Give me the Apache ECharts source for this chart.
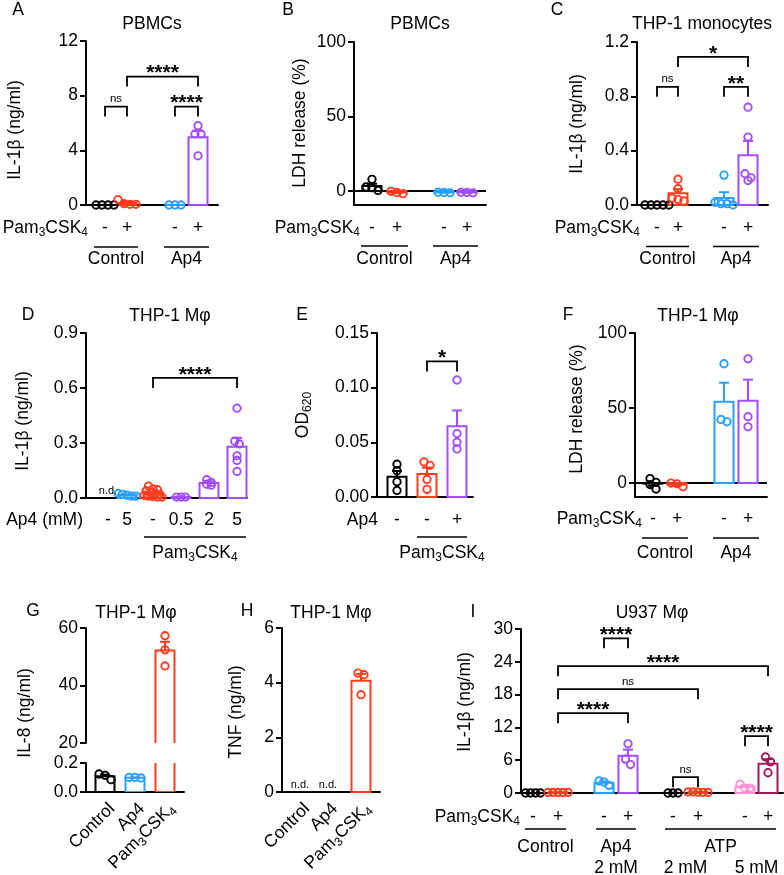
<!DOCTYPE html>
<html><head><meta charset="utf-8">
<script src="https://cdn.jsdelivr.net/npm/echarts@6/dist/echarts.min.js"></script>
<style>html,body{margin:0;padding:0;background:#fff}#c{width:784px;height:875px}</style>
</head><body><div id="c"></div>
<script>
// ================= DATA =================
// A: PBMCs, IL-1β (ng/ml)
const A_cats = ['-', '+', '-', '+'];
const A_yTicks = [0, 4, 8, 12];
const A_vals = [[0, 0, 0, 0], [0.4, 0.1, 0.05, 0.05], [0, 0, 0], [5.8, 5.2, 5.2, 3.6]];
const A_sig = [[0, 1, 7.2, 'ns'], [2, 3, 7.2, '****'], [1, 3, 9.4, '****']];
// B: PBMCs, LDH release (%)
const B_cats = ['-', '+', '-', '+'];
const B_yTicks = [0, 50, 100];
const B_vals = [[7.8, 2.7, 2.2, 0.4], [-1.8, -1.1, -0.2], [-1.2, -1.0, -0.8], [-1.2, -1.0, -0.9]];
// C: THP-1 monocytes, IL-1β (ng/ml)
const C_cats = ['-', '+', '-', '+'];
const C_yTicks = [0, 0.4, 0.8, 1.2];
const C_vals = [[0, 0, 0, 0, 0], [0.19, 0.12, 0.05, 0.04, 0.03], [0.22, 0.02, 0.01, 0.01, 0], [0.72, 0.5, 0.23, 0.2, 0.18]];
const C_sig = [[0, 1, 0.87, 'ns'], [2, 3, 0.87, '**'], [1, 3, 1.09, '*']];
// D: THP-1 Mφ, IL-1β (ng/ml)
const D_cats = ['-', '5', '-', '0.5', '2', '5'];
const D_yTicks = [0, 0.3, 0.6, 0.9];
const D_vals = [[], [0.025, 0.02, 0.015, 0.01, 0.01],
  [0.065, 0.05, 0.045, 0.04, 0.03, 0.025, 0.02, 0.015, 0.01, 0.008, 0.005, 0.005],
  [0.005, 0.005, 0.005], [0.1, 0.085, 0.075, 0.07], [0.49, 0.31, 0.295, 0.23, 0.205, 0.145]];
const D_sig = [[2, 5, 0.655, '****']];
// E: OD620
const E_cats = ['-', '-', '+'];
const E_yTicks = [0, 0.05, 0.1, 0.15];
const E_vals = [[0.03, 0.024, 0.014, 0.006], [0.032, 0.029, 0.016, 0.007], [0.107, 0.058, 0.05, 0.044]];
const E_sig = [[1, 2, 0.124, '*']];
// F: THP-1 Mφ, LDH release (%)
const F_cats = ['-', '+', '-', '+'];
const F_yTicks = [0, 50, 100];
const F_vals = [[3, 0.5, -1, -4], [-2.5, -0.5, 0], [79.5, 42.4, 40.8], [82.8, 44.2, 37.5]];
// G: THP-1 Mφ, IL-8 (ng/ml) (broken axis)
const G_cats = ['Control', 'Ap4', 'Pam3CSK4'];
const G_yTicksHigh = [20, 40, 60];
const G_yTicksLow = [0, 0.2];
const G_vals = [[0.085, 0.124, 0.115], [0.097, 0.1, 0.1], [57.3, 52.4, 46.8]];
// H: THP-1 Mφ, TNF (ng/ml)
const H_cats = ['Control', 'Ap4', 'Pam3CSK4'];
const H_yTicks = [0, 2, 4, 6];
const H_vals = [[], [], [4.35, 4.29, 3.56]];
// I: U937 Mφ, IL-1β (ng/ml)
const I_cats = ['-', '+', '-', '+', '-', '+', '-', '+'];
const I_yTicks = [0, 6, 12, 18, 24, 30];
const I_vals = [[0, 0, 0, 0], [0.1, 0.1, 0.1, 0.1, 0.1], [1.4, 2.2, 2.0], [9.0, 6.2, 5.2],
  [0, 0, 0], [0.2, 0.2, 0.15, 0.1, 0.1], [0.9, 1.6, 0.9], [6.6, 5.7, 3.7]];
const I_sig = [[2, 3, 28.3, '****'], [1, 7, 23.2, '****'], [1, 5, 19.0, 'ns'], [1, 3, 14.6, '****'], [6, 7, 10.4, '****'], [4, 5, 2.9, 'ns']];

// ================= STYLE / LAYOUT =================
const FONT = '"Liberation Sans", Arial, Helvetica, sans-serif';
const FS = 17.5;
const K = '#000000', R = '#ff3c1e', BL = '#27a0ff', P = '#a24dff', PK = '#ff8fd8', M = '#a3195b';
const PAM = '{n|Pam}{s|3}{n|CSK}{s|4}';
const RICH = {
  n: {fontSize: FS, fontFamily: FONT, lineHeight: 22, fill: '#000', color: '#000'},
  s: {fontSize: 12, fontFamily: FONT, lineHeight: 12, verticalAlign: 'bottom', fill: '#000', color: '#000'}
};

const panels = [
  {id: 'A', grid: {left: 86, top: 41, width: 132, height: 164}, ticks: A_yTicks, dec: 0, vals: A_vals, cats: A_cats, pos: [19, 41, 89, 112], colors: [K, R, BL, P], sig: A_sig},
  {id: 'B', grid: {left: 354, top: 42, width: 132, height: 163}, ticks: B_yTicks, ymin: -9.4, dec: 0, vals: B_vals, cats: B_cats, pos: [18, 43, 90, 113], colors: [K, R, BL, P], zero: true},
  {id: 'C', grid: {left: 637, top: 42, width: 131, height: 163}, ticks: C_yTicks, dec: 1, vals: C_vals, cats: C_cats, pos: [20, 41, 87, 111], colors: [K, R, BL, P], sig: C_sig},
  {id: 'D', grid: {left: 86, top: 333, width: 161, height: 165}, ticks: D_yTicks, dec: 1, vals: D_vals, cats: D_cats, pos: [22, 41, 67, 95, 123, 151], colors: [K, BL, R, P, P, P], sig: D_sig, s: 4.5, h: 4},
  {id: 'E', grid: {left: 377, top: 333, width: 96, height: 164}, ticks: E_yTicks, dec: 2, vals: E_vals, cats: E_cats, pos: [20, 50, 80], colors: [K, R, P], sig: E_sig},
  {id: 'F', grid: {left: 635, top: 333, width: 132, height: 164}, ticks: F_yTicks, ymin: -9.3, dec: 0, vals: F_vals, cats: F_cats, pos: [18, 42, 89, 113], colors: [K, R, BL, P], zero: true},
  {id: 'G1', grid: {left: 86, top: 628, width: 98, height: 115}, ticks: G_yTicksHigh, dec: 0, vals: G_vals, cats: G_cats, pos: [19, 49, 79], colors: [K, BL, R], clip: true, noX: true},
  {id: 'G2', grid: {left: 86, top: 763, width: 98, height: 29}, ticks: G_yTicksLow, dec: 1, vals: G_vals, cats: G_cats, pos: [19, 49, 79], colors: [K, BL, R], clip: true},
  {id: 'H', grid: {left: 282, top: 628, width: 98, height: 164}, ticks: H_yTicks, dec: 0, vals: H_vals, cats: H_cats, pos: [18, 46, 79], colors: [K, BL, R]},
  {id: 'I', grid: {left: 521, top: 629, width: 262, height: 164}, ticks: I_yTicks, dec: 0, vals: I_vals, cats: I_cats, pos: [12, 37, 83, 107, 152, 177, 224, 247], colors: [K, R, BL, P, K, R, PK, M], sig: I_sig, s: 5}
];

const ann = {
  A: {row: [PAM, 88, 23], groups: [[0, 1, 'Control'], [2, 3, 'Ap4']], line: 42, lab: 54, ext: 11},
  B: {row: [PAM, 360, 23], groups: [[0, 1, 'Control'], [2, 3, 'Ap4']], line: 41, lab: 54, ext: 11},
  C: {row: [PAM, 640, 23], groups: [[0, 1, 'Control'], [2, 3, 'Ap4']], line: 41.5, lab: 54, ext: 11},
  D: {row: ['Ap4 (mM)', 83, 22], groups: [[2, 5, PAM]], line: 39, lab: 55, ext: 9, nd: [0]},
  E: {row: ['Ap4', 378, 23], groups: [[1, 2, PAM]], line: 40, lab: 56, ext: 10},
  F: {row: [PAM, 642, 22], groups: [[0, 1, 'Control'], [2, 3, 'Ap4']], line: 41, lab: 56, ext: 11},
  G2: {rot: true},
  H: {rot: true, nd: [0, 1]},
  I: {row: [PAM, 520, 24], groups: [[0, 1, 'Control'], [2, 3, 'Ap4'], [4, 7, 'ATP']], line: 36, lab: 54, ext: 8,
      sub: [[2, 3, '2 mM'], [4, 5, '2 mM'], [6, 7, '5 mM']], subLab: 75}
};

const statics = [
  ['A', 18, 10], ['B', 288, 10], ['C', 557, 10], ['D', 28, 315], ['E', 302, 315], ['F', 568, 315], ['G', 33, 611], ['H', 247, 611], ['I', 473, 612],
  ['PBMCs', 152, 24], ['PBMCs', 420, 24], ['THP-1 monocytes', 702, 24], ['THP-1 Mφ', 170, 316], ['THP-1 Mφ', 698, 316],
  ['THP-1 Mφ', 136, 613], ['THP-1 Mφ', 331, 613], ['U937 Mφ', 652, 613]
];
const ynames = [
  ['IL-1β (ng/ml)', 15, 130], ['LDH release (%)', 300, 123], ['IL-1β (ng/ml)', 577, 124],
  ['IL-1β (ng/ml)', 23, 421], ['{n|OD}{s|620}', 303, 415], ['LDH release (%)', 577, 409],
  ['IL-8 (ng/ml)', 25, 713], ['TNF (ng/ml)', 236, 712], ['IL-1β (ng/ml)', 465, 702]
];

// ================= HELPERS =================
function mean(a) { return a.reduce((s, v) => s + v, 0) / a.length; }
function sem(a) {
  if (a.length < 2) return 0;
  const m = mean(a);
  return Math.sqrt(a.reduce((s, v) => s + (v - m) * (v - m), 0) / (a.length - 1)) / Math.sqrt(a.length);
}
function swarm(vals, ypx, s, h) {
  const idx = vals.map((v, j) => j).sort((a, b) => vals[b] - vals[a]);
  const offs = new Array(vals.length).fill(0);
  let row = [], rowY = null;
  const flush = () => { row.forEach((j, k) => { offs[j] = (k - (row.length - 1) / 2) * s; }); row = []; };
  idx.forEach(j => {
    const y = ypx(vals[j]);
    if (rowY === null || rowY - y >= h) { flush(); rowY = y; }
    row.push(j);
  });
  flush();
  return offs;
}
function T(x, y, text, o) {
  o = o || {};
  const al = o.align || 'center', va = o.va || 'middle';
  return {type: 'text', x: x, y: y, rotation: o.rot || 0, silent: true, z: 100,
    style: {text: text, fill: o.color || '#000', fontSize: o.size || FS, fontFamily: FONT, fontWeight: o.weight || 'normal',
      align: al, textAlign: al, verticalAlign: va, textVerticalAlign: va, rich: RICH}};
}

// ================= BUILD =================
const grids = [], xAxes = [], yAxes = [], series = [];
panels.forEach((p, gi) => {
  const ymin = (p.ymin !== undefined) ? p.ymin : p.ticks[0];
  const ymax = p.ticks[p.ticks.length - 1];
  p.ymin_ = ymin; p.ymax_ = ymax;
  grids.push({left: p.grid.left, top: p.grid.top, width: p.grid.width, height: p.grid.height, containLabel: false, outerBoundsMode: 'none'});
  xAxes.push({type: 'value', gridIndex: gi, min: 0, max: p.grid.width, show: !p.noX,
    axisLine: {show: true, onZero: false, lineStyle: {color: '#000', width: 2}},
    axisTick: {show: false}, axisLabel: {show: false}, splitLine: {show: false}});
  yAxes.push({type: 'value', gridIndex: gi, min: ymin, max: ymax, interval: p.ticks[1] - p.ticks[0],
    axisLine: {show: true, onZero: false, lineStyle: {color: '#000', width: 2}},
    axisTick: {show: true, inside: false, length: 6, lineStyle: {color: '#000', width: 2}, customValues: p.ticks},
    axisLabel: {show: true, margin: 8, color: '#000', fontSize: FS, fontFamily: FONT, customValues: p.ticks,
      formatter: v => (+v).toFixed(p.dec)},
    splitLine: {show: false}});

  // bars + error bars
  const barData = [];
  p.vals.forEach((v, i) => { if (v.length) barData.push([p.pos[i], mean(v), sem(v), i]); });
  series.push({type: 'custom', xAxisIndex: gi, yAxisIndex: gi, clip: !!p.clip, z: 2, silent: true, data: barData,
    renderItem: (params, api) => {
      const x = api.value(0), m = api.value(1), s = api.value(2), i = api.value(3);
      const top = api.coord([x, m]), base = api.coord([x, 0]), et = api.coord([x, m + (m >= 0 ? s : -s)]);
      const col = p.colors[i], hw = 9.5;
      return {type: 'group', children: [
        {type: 'rect', shape: {x: top[0] - hw, y: Math.min(top[1], base[1]), width: 2 * hw, height: Math.abs(base[1] - top[1])},
          style: {fill: 'none', stroke: col, lineWidth: 2}},
        {type: 'line', shape: {x1: top[0], y1: top[1], x2: top[0], y2: et[1]}, style: {stroke: col, lineWidth: 2}},
        {type: 'line', shape: {x1: top[0] - 5, y1: et[1], x2: top[0] + 5, y2: et[1]}, style: {stroke: col, lineWidth: 2}}
      ]};
    }});

  // individual points
  const pts = [];
  const pxPer = p.grid.height / (ymax - ymin);
  p.vals.forEach((vals, i) => {
    const offs = swarm(vals, v => v * pxPer, p.s || 6, p.h || 6);
    vals.forEach((v, j) => pts.push({value: [p.pos[i] + offs[j], v], itemStyle: {borderColor: p.colors[i]}}));
  });
  series.push({type: 'scatter', xAxisIndex: gi, yAxisIndex: gi, data: pts, symbol: 'circle', symbolSize: 7.4,
    itemStyle: {color: 'rgba(255,255,255,0)', borderWidth: 1.9, opacity: 1}, clip: true, z: 3, silent: true,
    emphasis: {disabled: true}});

  // zero reference line
  if (p.zero) {
    series.push({type: 'custom', xAxisIndex: gi, yAxisIndex: gi, z: 1, silent: true, data: [[0, 0]],
      renderItem: (params, api) => {
        const a = api.coord([0, 0]), b = api.coord([p.grid.width, 0]);
        return {type: 'line', shape: {x1: a[0], y1: a[1], x2: b[0], y2: b[1]}, style: {stroke: '#000', lineWidth: 2}};
      }});
  }
  // significance brackets
  if (p.sig) {
    series.push({type: 'custom', xAxisIndex: gi, yAxisIndex: gi, z: 5, silent: true, clip: false,
      data: p.sig.map(s => [p.pos[s[0]], s[2], p.pos[s[1]]]),
      renderItem: (params, api) => {
        const s = p.sig[params.dataIndex];
        const a = api.coord([api.value(0), api.value(1)]), b = api.coord([api.value(2), api.value(1)]);
        const leg = 10, ns = s[3] === 'ns';
        return {type: 'group', children: [
          {type: 'polyline', shape: {points: [[a[0], a[1] + leg], [a[0], a[1]], [b[0], b[1]], [b[0], b[1] + leg]]},
            style: {stroke: '#000', lineWidth: 1.8, fill: null}},
          {type: 'text', x: (a[0] + b[0]) / 2, y: a[1] - (ns ? 7.5 : 3),
            style: {text: s[3], fill: '#000', fontFamily: FONT, fontSize: ns ? 11.5 : 21, fontWeight: ns ? 'normal' : 'bold',
              align: 'center', textAlign: 'center', verticalAlign: 'middle', textVerticalAlign: 'middle'}}
        ]};
      }});
  }
});

const chart = echarts.init(document.getElementById('c'), null, {renderer: 'canvas'});
chart.setOption({animation: false, backgroundColor: '#ffffff', grid: grids, xAxis: xAxes, yAxis: yAxes, series: series});

// ================= ANNOTATIONS (positioned through the axes) =================
const g = [];
statics.forEach(s => g.push(T(s[1], s[2], s[0])));
ynames.forEach(s => g.push(T(s[1], s[2], s[0], {rot: Math.PI / 2})));
panels.forEach((p, gi) => {
  const a = ann[p.id];
  if (!a) return;
  const cx = i => chart.convertToPixel({xAxisIndex: gi}, p.pos[i]);
  const axisY = chart.convertToPixel({yAxisIndex: gi}, p.ymin_);
  if (a.row) {
    g.push(T(a.row[1], axisY + a.row[2], a.row[0], {align: 'right'}));
    p.cats.forEach((c, i) => g.push(T(cx(i), axisY + a.row[2], c)));
  }
  (a.groups || []).forEach(gr => {
    const x1 = cx(gr[0]) - a.ext, x2 = cx(gr[1]) + a.ext;
    g.push({type: 'line', silent: true, z: 100, shape: {x1: x1, y1: axisY + a.line, x2: x2, y2: axisY + a.line}, style: {stroke: '#000', lineWidth: 1.6}});
    g.push(T((cx(gr[0]) + cx(gr[1])) / 2, axisY + a.lab, gr[2]));
  });
  (a.sub || []).forEach(sb => g.push(T((cx(sb[0]) + cx(sb[1])) / 2, axisY + a.subLab, sb[2])));
  (a.nd || []).forEach(i => g.push(T(cx(i), axisY - 7, 'n.d.', {size: 11})));
  if (a.rot) {
    p.cats.forEach((c, i) => g.push(T(cx(i) + 7, axisY + 14, c === 'Pam3CSK4' ? PAM : c, {align: 'right', rot: Math.PI / 4})));
  }
});
chart.setOption({graphic: {elements: g}});
</script>
</body></html>
